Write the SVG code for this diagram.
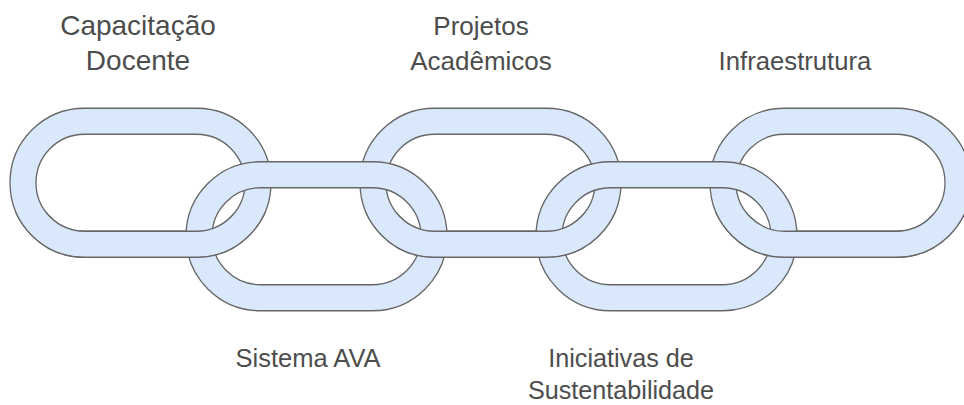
<svg xmlns="http://www.w3.org/2000/svg" xmlns:xlink="http://www.w3.org/1999/xlink" width="964" height="405" viewBox="0 0 964 405">
  <style>
    .ring { fill: #dae8fc; fill-rule: evenodd; stroke: #666666; stroke-width: 1.3; }
    .lbl { font-family: "Liberation Sans", Arial, sans-serif; fill: #4d4d4d; text-anchor: middle; }
  </style>
  <defs>
    <clipPath id="lowerHalf">
      <rect x="0" y="212" width="964" height="60"/>
    </clipPath>
  </defs>
  <rect width="964" height="405" fill="#ffffff"/>

  <!-- upper links -->
  <g id="node-capacitacao-docente">
    <path id="ring1" class="ring" d="M84.5,108.25 H196.5 A74.5,74.5 0 0 1 196.5,257.25 H84.5 A74.5,74.5 0 0 1 84.5,108.25 Z M84.5,134.25 H196.5 A48.5,48.5 0 0 1 196.5,231.25 H84.5 A48.5,48.5 0 0 1 84.5,134.25 Z"/>
    <text class="lbl" font-size="28" x="138" y="35">Capacitação</text>
    <text class="lbl" font-size="28" x="138" y="70">Docente</text>
  </g>
  <g id="node-projetos-academicos">
    <path id="ring3" class="ring" d="M434.5,108.25 H546.5 A74.5,74.5 0 0 1 546.5,257.25 H434.5 A74.5,74.5 0 0 1 434.5,108.25 Z M434.5,134.25 H546.5 A48.5,48.5 0 0 1 546.5,231.25 H434.5 A48.5,48.5 0 0 1 434.5,134.25 Z"/>
    <text class="lbl" font-size="26" x="481" y="35">Projetos</text>
    <text class="lbl" font-size="26" x="481" y="70">Acadêmicos</text>
  </g>
  <g id="node-infraestrutura">
    <path id="ring5" class="ring" d="M784.5,108.25 H896.5 A74.5,74.5 0 0 1 896.5,257.25 H784.5 A74.5,74.5 0 0 1 784.5,108.25 Z M784.5,134.25 H896.5 A48.5,48.5 0 0 1 896.5,231.25 H784.5 A48.5,48.5 0 0 1 784.5,134.25 Z"/>
    <text class="lbl" font-size="25.7" x="795" y="70">Infraestrutura</text>
  </g>

  <!-- lower links -->
  <g id="node-sistema-ava">
    <path id="ring2" class="ring" d="M260.5,161.75 H372.5 A74.5,74.5 0 0 1 372.5,310.75 H260.5 A74.5,74.5 0 0 1 260.5,161.75 Z M260.5,187.75 H372.5 A48.5,48.5 0 0 1 372.5,284.75 H260.5 A48.5,48.5 0 0 1 260.5,187.75 Z"/>
    <text class="lbl" font-size="25.5" x="308" y="367">Sistema AVA</text>
  </g>
  <g id="node-iniciativas-sustentabilidade">
    <path id="ring4" class="ring" d="M610.5,161.75 H722.5 A74.5,74.5 0 0 1 722.5,310.75 H610.5 A74.5,74.5 0 0 1 610.5,161.75 Z M610.5,187.75 H722.5 A48.5,48.5 0 0 1 722.5,284.75 H610.5 A48.5,48.5 0 0 1 610.5,187.75 Z"/>
    <text class="lbl" font-size="25.2" x="621" y="367">Iniciativas de</text>
    <text class="lbl" font-size="25.2" x="621" y="399">Sustentabilidade</text>
  </g>

  <!-- interlock: bottom bars of upper links pass over the lower links -->
  <g id="interlock-overlay" clip-path="url(#lowerHalf)">
    <use xlink:href="#ring1" href="#ring1"/>
    <use xlink:href="#ring3" href="#ring3"/>
    <use xlink:href="#ring5" href="#ring5"/>
  </g>
</svg>
